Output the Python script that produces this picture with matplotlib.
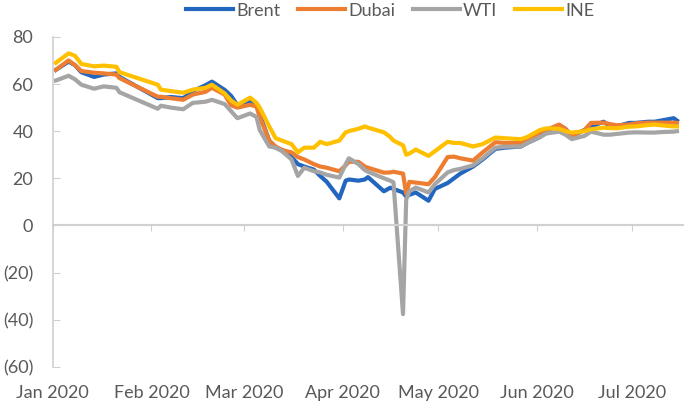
import pandas as pd
import matplotlib
matplotlib.use('Agg')
from matplotlib import pyplot as plt
from matplotlib import transforms
from matplotlib.ticker import FuncFormatter

plt.rcParams['font.family'] = ['Lato', 'DejaVu Sans']

# Trading dates sampled off the chart (INE closed for the new year holiday, so a gap late Jan)
dates = pd.to_datetime([
    '2020-01-02', '2020-01-06', '2020-01-08', '2020-01-10', '2020-01-14', '2020-01-17',
    '2020-01-21', '2020-01-22', '2020-02-03', '2020-02-04', '2020-02-07', '2020-02-11',
    '2020-02-14', '2020-02-18', '2020-02-20', '2020-02-24', '2020-02-26', '2020-02-28',
    '2020-03-03', '2020-03-05', '2020-03-06', '2020-03-09', '2020-03-11', '2020-03-13',
    '2020-03-16', '2020-03-18', '2020-03-20', '2020-03-23', '2020-03-25', '2020-03-27',
    '2020-03-31', '2020-04-02', '2020-04-03', '2020-04-06', '2020-04-08', '2020-04-09',
    '2020-04-14', '2020-04-16', '2020-04-17', '2020-04-20', '2020-04-21', '2020-04-22',
    '2020-04-24', '2020-04-28', '2020-04-30', '2020-05-04', '2020-05-06', '2020-05-08',
    '2020-05-12', '2020-05-15', '2020-05-19', '2020-05-22', '2020-05-27', '2020-05-29',
    '2020-06-02', '2020-06-04', '2020-06-08', '2020-06-10', '2020-06-12', '2020-06-16',
    '2020-06-18', '2020-06-22', '2020-06-24', '2020-06-26', '2020-06-30', '2020-07-02',
    '2020-07-06', '2020-07-08', '2020-07-10', '2020-07-14', '2020-07-15'])

brent = [66, 69.5, 68, 65, 63, 64, 64.5, 63, 54, 54, 54.5, 54,
         57, 59.5, 61, 57.5, 55, 51, 52.5, 51, 47, 36, 33, 32,
         29, 26, 25, 23.7, 21, 18.6, 11.5, 19, 19.5, 19, 19.5, 20.5,
         14.5, 16, 15.5, 14, 12.3, 13, 14, 10.5, 15.5, 18, 20, 22,
         25, 28, 32.5, 33, 33.5, 35, 37.5, 40, 42.5, 41, 38, 40.5,
         42, 44, 42, 42, 43.5, 43.5, 44, 44, 44.5, 45.5, 44.5]

dubai = [66, 70, 68, 65.5, 64.8, 64.5, 64, 62.5, 54.6, 54.6, 54, 53.3,
         55.5, 56.7, 58.4, 55.5, 51, 50, 51.2, 50.4, 46, 36, 33.5, 32,
         31, 29, 28, 26, 25, 24.5, 23, 25.5, 27, 27, 25, 24.5,
         22.4, 22.5, 22.8, 22, 13.5, 18.5, 18.2, 17.5, 20.5, 29, 29.2, 28.5,
         27.5, 31, 35.3, 35, 35.1, 36, 39.5, 40.5, 42.8, 41, 38, 40.5,
         43.5, 43.6, 43, 42.5, 42.8, 43.3, 43.6, 43.6, 43.6, 43.6, 43.5]

wti = [61.5, 63.5, 62, 59.7, 58, 59, 58.4, 56.5, 49.5, 50.8, 50, 49.3,
       52, 52.5, 53.3, 51.5, 48.5, 45.5, 47.5, 46, 40.5, 33.5, 33, 31.5,
       28, 21, 24.5, 23, 22.5, 21.5, 20.3, 26, 28.5, 26, 23.5, 22.8,
       20, 19, 18.3, -37.6, 11, 14.5, 16.1, 14, 17.5, 22.5, 23.5, 24,
       25.5, 28.5, 33, 33.4, 33.5, 35, 37.5, 39, 39.8, 38.5, 36.6, 38,
       39.8, 38.5, 38.5, 38.8, 39.4, 39.5, 39.4, 39.4, 39.6, 39.8, 40]

ine = [69, 73, 72, 68.5, 67.5, 67.8, 67.3, 65, 59.7, 57.6, 57, 56.3,
       57.6, 58.4, 59.7, 56, 53, 51.2, 54.2, 52, 50, 42, 37, 36,
       34.5, 31, 33, 33, 35.5, 34.5, 36, 39.5, 40, 41, 42, 41.5,
       39.5, 37.5, 36, 34, 30, 30.5, 32.2, 29.5, 31.5, 35.5, 35, 35,
       33.5, 34.5, 37.3, 37, 36.6, 37.5, 40.5, 41.2, 41, 40, 39.4, 40,
       40.8, 41.5, 41.3, 41.2, 41.9, 42, 42.6, 42.8, 42.5, 42, 42]

series = [('Brent', brent, '#2266c0'), ('Dubai', dubai, '#ed7d31'),
          ('WTI', wti, '#a5a5a5'), ('INE', ine, '#ffc000')]

month_ticks = pd.to_datetime(['2020-01-01', '2020-02-01', '2020-03-01', '2020-04-01',
                              '2020-05-01', '2020-06-01', '2020-07-01'])
month_labels = ['Jan 2020', 'Feb 2020', 'Mar 2020', 'Apr 2020', 'May 2020', 'Jun 2020', 'Jul 2020']

text_col = '#595959'
axis_col = '#d0d0d0'

fig = plt.figure(figsize=(6.93, 4.05), dpi=100)
ax = fig.add_axes([0.076, 0.094, 0.91, 0.815])

for name, vals, col in series:
    ax.plot(dates, vals, color=col, lw=3, label=name, solid_joinstyle='round')

ax.set_ylim(-60, 80)
ax.set_xlim(pd.Timestamp('2020-01-01'), pd.Timestamp('2020-07-17'))
ax.set_yticks(range(-60, 81, 20))
ax.yaxis.set_major_formatter(FuncFormatter(lambda v, p: f'({abs(int(v))})' if v < 0 else f'{int(v)}'))

for s in ['top', 'right']:
    ax.spines[s].set_visible(False)
ax.spines['left'].set_color(axis_col)
ax.spines['left'].set_linewidth(1.2)
ax.spines['bottom'].set_position(('data', 0))
ax.spines['bottom'].set_color(axis_col)
ax.spines['bottom'].set_linewidth(1.5)

ax.tick_params(axis='y', direction='in', length=5, color=axis_col, labelcolor=text_col,
               labelsize=13, pad=14)
ax.set_xticks(month_ticks)
ax.set_xticklabels([])
ax.tick_params(axis='x', direction='out', length=4, color=axis_col)

# month labels sit below the plot, not on the zero line
trans = transforms.blended_transform_factory(ax.transData, ax.transAxes)
for d, lab in zip(month_ticks, month_labels):
    ax.text(d, -0.079, lab, transform=trans, ha='center', va='center',
            fontsize=13, color=text_col)

leg = fig.legend(loc='center', bbox_to_anchor=(0.563, 0.974), ncol=4, frameon=False,
                 fontsize=13, handlelength=2.6, handletextpad=0.2, columnspacing=0.95)
for t in leg.get_texts():
    t.set_color(text_col)

plt.savefig('out.png', dpi=100)
